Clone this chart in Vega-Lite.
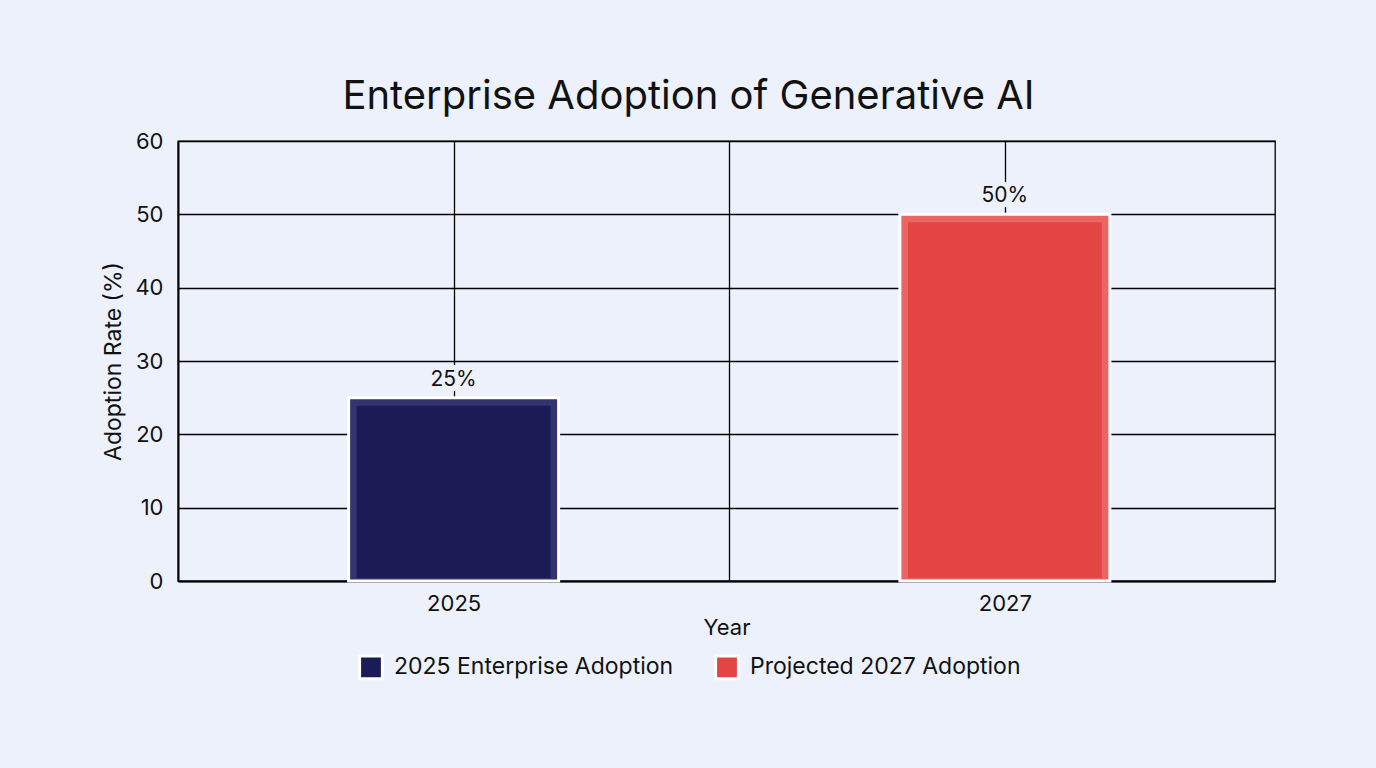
{
  "$schema": "https://vega.github.io/schema/vega-lite/v6.json",
  "autosize": {"type": "none"},
  "width": 1097,
  "height": 440,
  "padding": {"left": 178, "top": 141, "right": 101, "bottom": 187},
  "background": "#ecf1fb",
  "config": {"view": {"stroke": "#000000", "strokeWidth": 1.3}},
  "title": {
    "text": "Enterprise Adoption of Generative AI",
    "fontSize": 40,
    "font": "Inter",
    "fontWeight": "normal",
    "color": "#111111",
    "anchor": "middle",
    "dx": -38,
    "offset": 13
  },
  "data": {
    "values": [
      {"year": 2025, "rate": 25, "label": "25%", "series": "2025 Enterprise Adoption"},
      {"year": 2027, "rate": 50, "label": "50%", "series": "Projected 2027 Adoption"}
    ]
  },
  "encoding": {
    "x": {
      "field": "year",
      "type": "quantitative",
      "scale": {"domain": [2024, 2027.98], "nice": false, "zero": false, "padding": 0},
      "axis": {
        "title": "Year",
        "values": [2025, 2026, 2027],
        "format": "d",
        "labelExpr": "datum.value == 2025 || datum.value == 2027 ? datum.label : ''",
        "grid": true,
        "gridColor": "#000000",
        "gridWidth": 1.3,
        "gridOpacity": 1,
        "ticks": false,
        "domainColor": "#000000",
        "domainWidth": 2,
        "labelFontSize": 22,
        "labelFont": "Inter",
        "labelColor": "#111111",
        "labelPadding": 12,
        "titleFontSize": 22,
        "titleFont": "Inter",
        "titleFontWeight": "normal",
        "titleColor": "#111111",
        "titlePadding": 3
      }
    },
    "y": {
      "field": "rate",
      "type": "quantitative",
      "scale": {"domain": [0, 60], "nice": false},
      "axis": {
        "title": "Adoption Rate (%)",
        "values": [0, 10, 20, 30, 40, 50, 60],
        "grid": true,
        "gridColor": "#000000",
        "gridWidth": 1.3,
        "gridOpacity": 1,
        "ticks": false,
        "domainColor": "#000000",
        "domainWidth": 2,
        "labelFontSize": 22,
        "labelFont": "Inter",
        "labelColor": "#111111",
        "labelPadding": 15,
        "titleFontSize": 23,
        "titleFont": "Inter",
        "titleFontWeight": "normal",
        "titleColor": "#111111",
        "titlePadding": 9
      }
    }
  },
  "layer": [
    {
      "mark": {"type": "bar", "width": 210, "stroke": "#ffffff", "strokeWidth": 3},
      "encoding": {
        "y2": {"datum": 0},
        "color": {
          "field": "series",
          "type": "nominal",
          "scale": {
            "domain": ["2025 Enterprise Adoption", "Projected 2027 Adoption"],
            "range": ["#33336f", "#ec6464"]
          },
          "legend": null
        }
      }
    },
    {
      "mark": {"type": "bar", "width": 194, "yOffset": 8, "y2Offset": -3},
      "encoding": {
        "y2": {"datum": 0},
        "color": {
          "field": "series",
          "type": "nominal",
          "scale": {
            "domain": ["2025 Enterprise Adoption", "Projected 2027 Adoption"],
            "range": ["#1b1b55", "#e34444"]
          },
          "legend": {
            "title": null,
            "orient": "none",
            "legendX": 180,
            "legendY": 513,
            "direction": "horizontal",
            "symbolType": "square",
            "symbolSize": 520,
            "symbolStrokeColor": "#ffffff",
            "symbolStrokeWidth": 3,
            "symbolOpacity": 1,
            "labelFontSize": 23,
            "labelFont": "Inter",
            "labelColor": "#111111",
            "labelLimit": 400,
            "columnPadding": 35,
            "labelOffset": 10
          }
        }
      }
    },
    {
      "mark": {
        "type": "text",
        "baseline": "bottom",
        "dy": -8,
        "fontSize": 21,
        "font": "Inter",
        "stroke": "#ecf1fb",
        "strokeWidth": 10,
        "fill": "#ecf1fb"
      },
      "encoding": {"text": {"field": "label"}}
    },
    {
      "mark": {
        "type": "text",
        "baseline": "bottom",
        "dy": -8,
        "fontSize": 21,
        "font": "Inter",
        "color": "#111111"
      },
      "encoding": {"text": {"field": "label"}}
    }
  ],
  "resolve": {"scale": {"color": "independent"}, "legend": {"color": "independent"}}
}
